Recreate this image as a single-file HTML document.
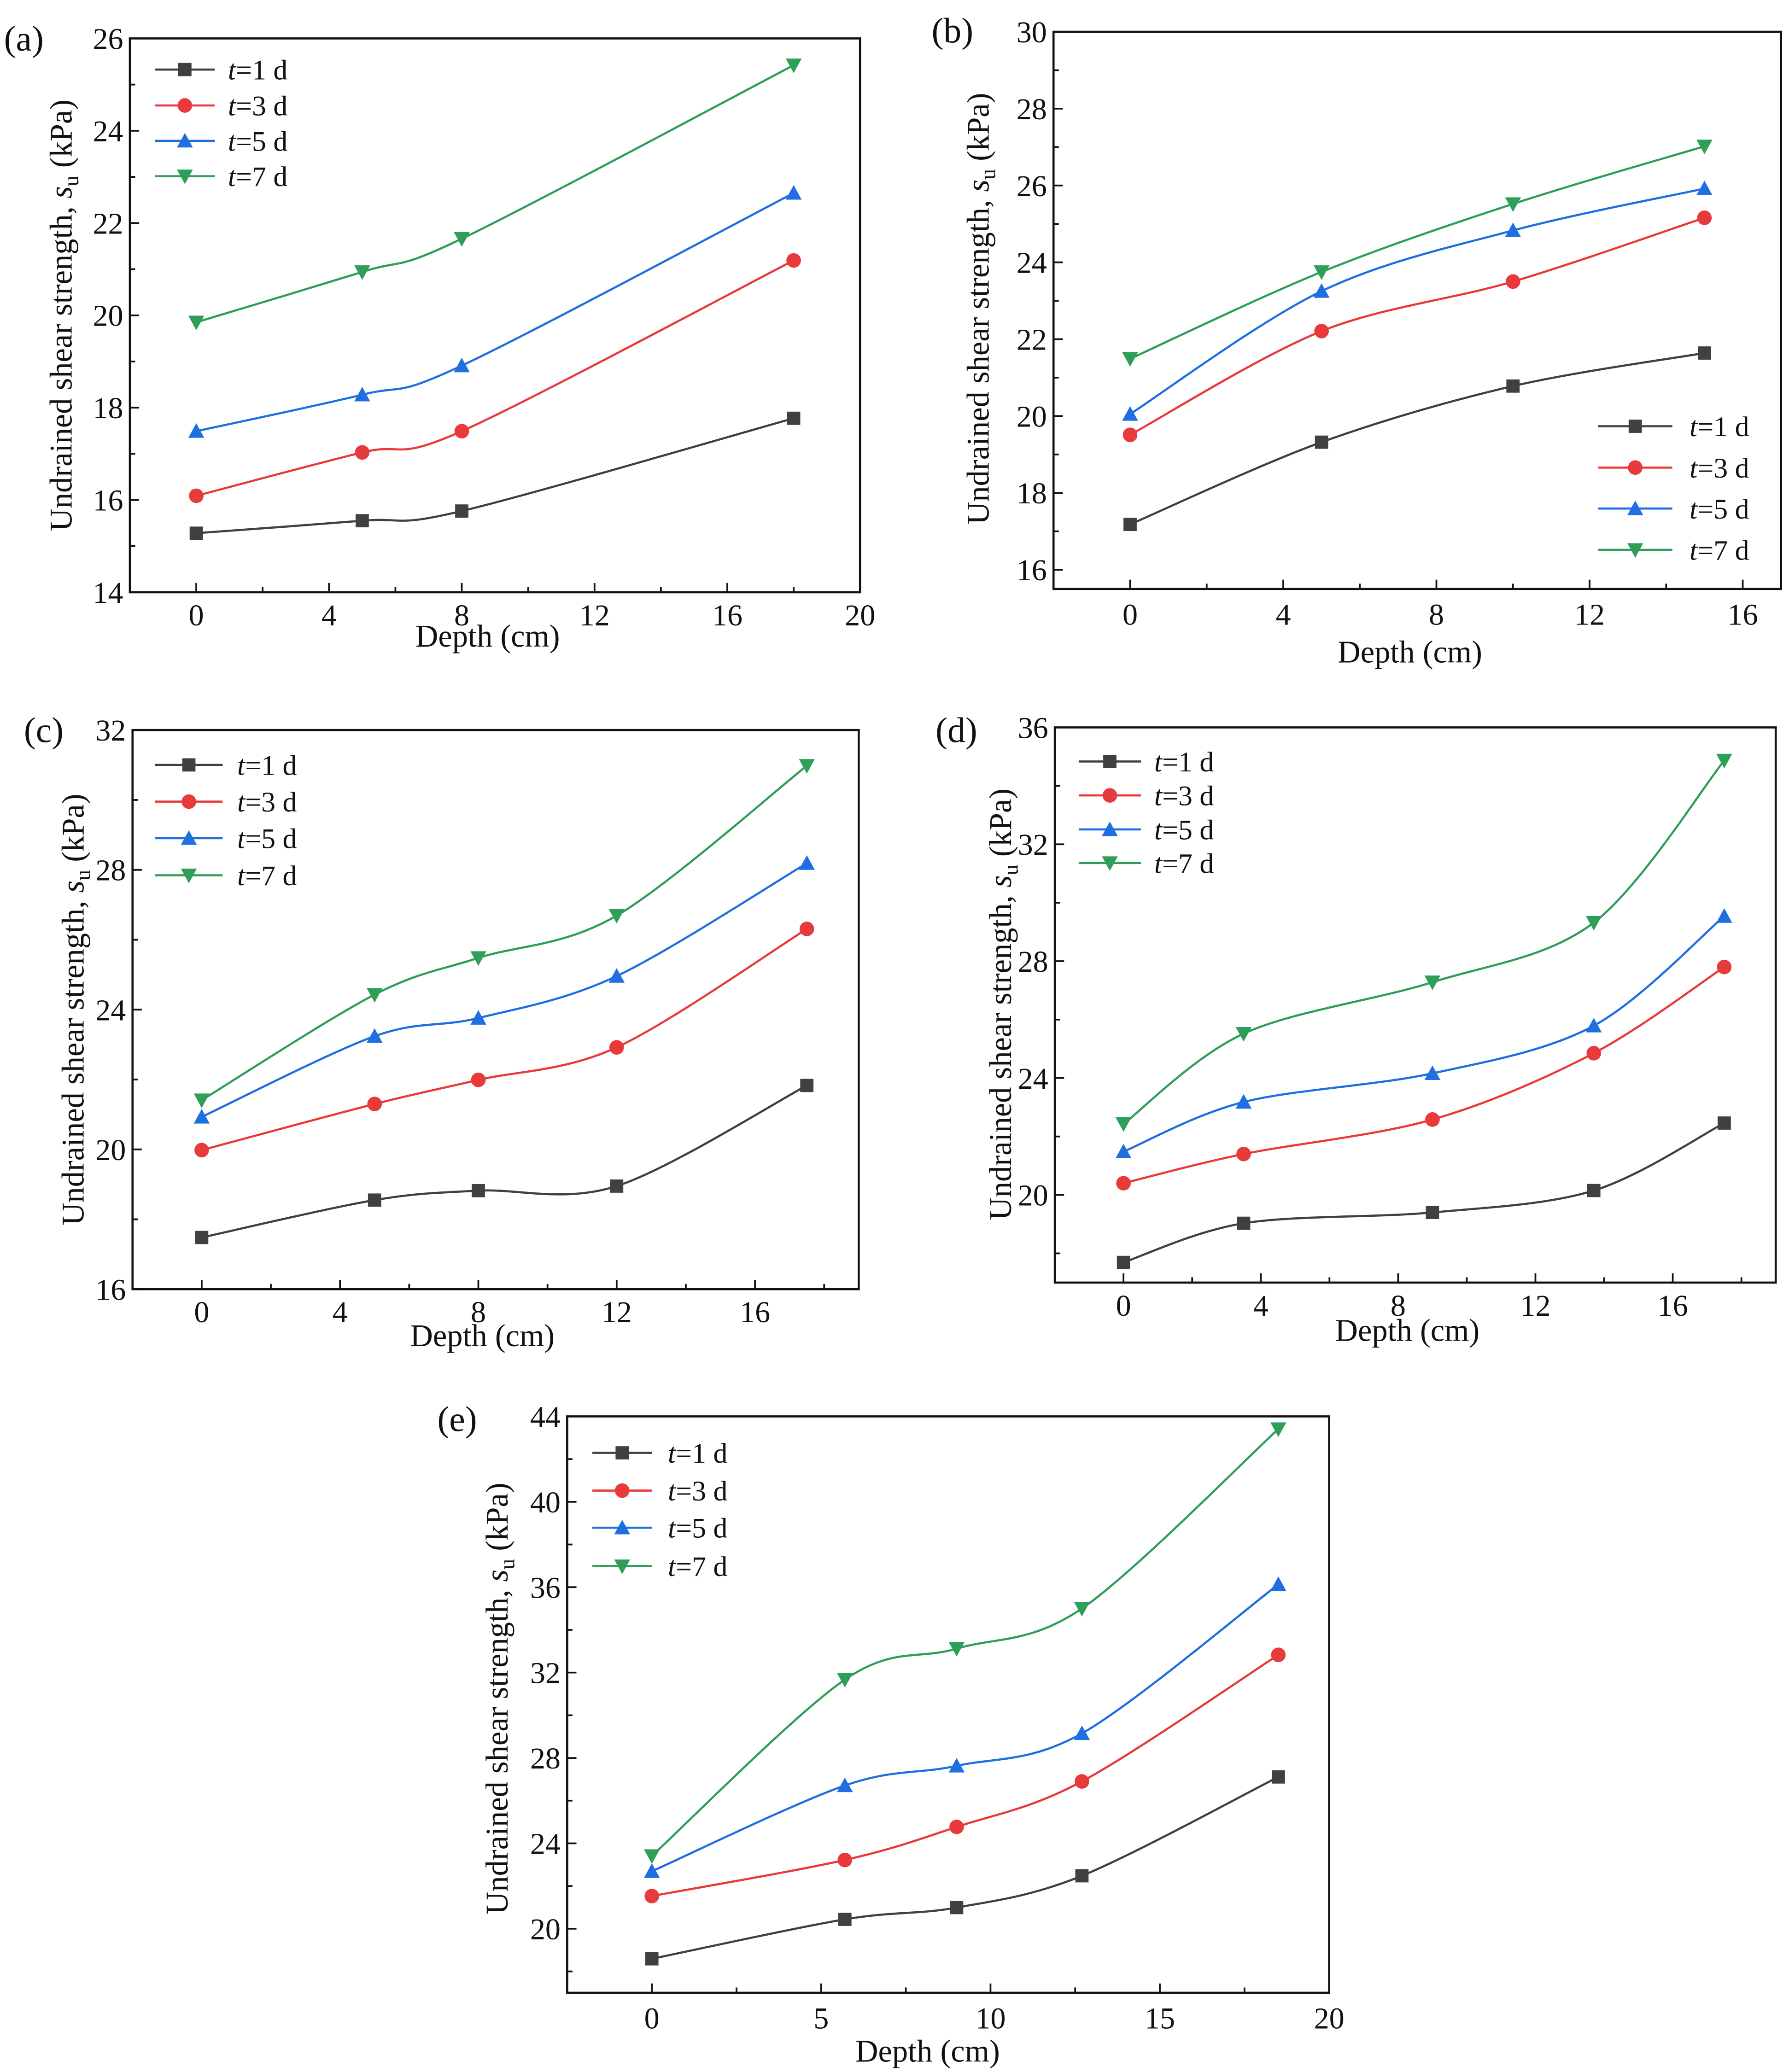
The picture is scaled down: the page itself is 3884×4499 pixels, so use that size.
<!DOCTYPE html>
<html><head><meta charset="utf-8"><style>
html,body{margin:0;padding:0;background:#fff;}
svg{display:block;}
text{font-family:"Liberation Serif",serif;fill:#111;}
</style></head><body>
<svg id="fig" xmlns="http://www.w3.org/2000/svg" width="3884" height="4499" viewBox="0 0 1350 1563.8"></svg>
<script>
// ---- Panel (a) data ----
const aDepth=[0,5,8,18];
const aT1=[15.28,15.55,15.76,17.77];
const aT3=[16.09,17.03,17.49,21.19];
const aT5=[17.49,18.28,18.91,22.65];
const aT7=[19.85,20.94,21.66,25.42];
const aXTicks=[0,4,8,12,16,20];
const aYTicks=[14,16,18,20,22,24,26];
// ---- Panel (b) data ----
const bDepth=[0,5,10,15];
const bT1=[17.18,19.32,20.78,21.64];
const bT3=[19.51,22.21,23.50,25.16];
const bT5=[20.05,23.25,24.83,25.92];
const bT7=[21.49,23.75,25.52,27.02];
const bXTicks=[0,4,8,12,16];
const bYTicks=[16,18,20,22,24,26,28,30];
// ---- Panel (c) data ----
const cDepth=[0,5,8,12,17.5];
const cT1=[17.48,18.55,18.82,18.95,21.83];
const cT3=[19.98,21.30,21.99,22.92,26.31];
const cT5=[20.93,23.24,23.76,24.96,28.19];
const cT7=[21.41,24.43,25.48,26.69,30.98];
const cXTicks=[0,4,8,12,16];
const cYTicks=[16,20,24,28,32];
// ---- Panel (d) data ----
const dDepth=[0,3.5,9,13.7,17.5];
const dT1=[17.69,19.03,19.40,20.15,22.46];
const dT3=[20.40,21.40,22.58,24.85,27.80];
const dT5=[21.48,23.18,24.16,25.79,29.54];
const dT7=[22.43,25.52,27.28,29.32,34.87];
const dXTicks=[0,4,8,12,16];
const dYTicks=[20,24,28,32,36];
// ---- Panel (e) data ----
const eDepth=[0,5.7,9,12.7,18.5];
const eT1=[18.59,20.44,20.99,22.48,27.11];
const eT3=[21.53,23.22,24.77,26.90,32.83];
const eT5=[22.69,26.71,27.63,29.15,36.13];
const eT7=[23.41,31.67,33.12,35.00,43.41];
const eXTicks=[0,5,10,15,20];
const eYTicks=[20,24,28,32,36,40,44];

const seriesDays=['1','3','5','7'];
const colors=['#404040','#e8393b','#1f6fe0','#2e9e58'];
const markers=['square','circle','up','down'];

const NS='http://www.w3.org/2000/svg';
const svg=document.getElementById('fig');
function mk(tag,attrs,parent){const e=document.createElementNS(NS,tag);for(const k in attrs)e.setAttribute(k,attrs[k]);(parent||svg).appendChild(e);return e;}

function smoothPath(pts){
  let d='M'+pts[0][0]+','+pts[0][1];
  for(let i=0;i<pts.length-1;i++){
    const p0=pts[i-1]||pts[i],p1=pts[i],p2=pts[i+1],p3=pts[i+2]||p2;
    const t=0.16;
    const c1=[p1[0]+(p2[0]-p0[0])*t,p1[1]+(p2[1]-p0[1])*t];
    const c2=[p2[0]-(p3[0]-p1[0])*t,p2[1]-(p3[1]-p1[1])*t];
    d+=' C'+c1[0]+','+c1[1]+' '+c2[0]+','+c2[1]+' '+p2[0]+','+p2[1];
  }
  return d;
}
function marker(g,type,x,y,c){
  let m;
  if(type==='square'){m=mk('rect',{x:x-5,y:y-5,width:10,height:10,fill:c},g);}
  else if(type==='circle'){m=mk('circle',{cx:x,cy:y,r:5.5,fill:c},g);}
  else if(type==='up'){m=mk('polygon',{points:(x-6)+','+(y+5)+' '+(x+6)+','+(y+5)+' '+x+','+(y-6),fill:c},g);}
  else {m=mk('polygon',{points:(x-6)+','+(y-5)+' '+(x+6)+','+(y-5)+' '+x+','+(y+6),fill:c},g);}
  return m;
}

function panel(cfg){
  const g=mk('g',{});
  
  
  const [L,T,R,B]=cfg.box;
  const sx=v=>L+(v-cfg.xr[0])/(cfg.xr[1]-cfg.xr[0])*(R-L);
  const sy=v=>B-(v-cfg.yr[0])/(cfg.yr[1]-cfg.yr[0])*(B-T);
  const frame=mk('rect',{x:L,y:T,width:R-L,height:B-T,fill:'none',stroke:'#111','stroke-width':1.6},g);
  
  
  for(let v=Math.ceil(cfg.xr[0]/cfg.xMinor)*cfg.xMinor; v<=cfg.xr[1]+1e-9; v+=cfg.xMinor){
    const major=Math.abs(v/cfg.xMajor-Math.round(v/cfg.xMajor))<1e-6;
    const tk=mk('line',{x1:sx(v),x2:sx(v),y1:B,y2:B-(major?7:4),stroke:'#111','stroke-width':1.3},g);
    
    
  }
  cfg.xTicks.forEach(v=>{
    const t=mk('text',{x:sx(v),y:B+cfg.xLabOff,'font-size':23,'text-anchor':'middle'},g);
    t.textContent=String(v);
    
    
  });
  for(let v=Math.ceil(cfg.yr[0]/cfg.yMinor)*cfg.yMinor; v<=cfg.yr[1]+1e-9; v+=cfg.yMinor){
    const major=Math.abs(v/cfg.yMajor-Math.round(v/cfg.yMajor))<1e-6;
    const tk=mk('line',{x1:L,x2:L+(major?7:4),y1:sy(v),y2:sy(v),stroke:'#111','stroke-width':1.3},g);
    
    
  }
  cfg.yTicks.forEach(v=>{
    const t=mk('text',{x:L-5,y:sy(v)+8,'font-size':23,'text-anchor':'end'},g);
    t.textContent=String(v);
    
    
  });
  cfg.series.forEach((vals,i)=>{
    const sg=mk('g',{},g);
    
    
    const pts=cfg.xs.map((x,j)=>[sx(x),sy(vals[j])]);
    const p=mk('path',{d:smoothPath(pts),fill:'none',stroke:colors[i],'stroke-width':1.6},sg);
    
    
    pts.forEach(pt=>{
      const m=marker(sg,markers[i],pt[0],pt[1],colors[i]);
      
      
    });
  });
  const lg=mk('g',{},g);
  
  
  cfg.legend.ys.forEach((y,i)=>{
    const eg=mk('g',{},lg);
    
    
    mk('line',{x1:cfg.legend.x1,x2:cfg.legend.x2,y1:y,y2:y,stroke:colors[i],'stroke-width':1.6},eg);
    marker(eg,markers[i],(cfg.legend.x1+cfg.legend.x2)/2,y,colors[i]);
    const t=mk('text',{x:cfg.legend.tx,y:y+7.5,'font-size':21.5},eg);
    const ti=mk('tspan',{'font-style':'italic'},t); ti.textContent='t';
    const tr=mk('tspan',{},t); tr.textContent='='+seriesDays[i]+' d';
  });
  const xt=mk('text',{x:cfg.xtitle[0],y:cfg.xtitle[1],'font-size':23.8,'text-anchor':'middle'},g);
  xt.textContent='Depth (cm)';
  
  
  const yt=mk('text',{x:0,y:0,'font-size':23.8,'text-anchor':'middle',transform:'translate('+cfg.ytitle[0]+','+cfg.ytitle[1]+') rotate(-90)'},g);
  
  
  const a1=mk('tspan',{},yt); a1.textContent='Undrained shear strength, ';
  const a2=mk('tspan',{'font-style':'italic'},yt); a2.textContent='s';
  const a3=mk('tspan',{'font-size':16,dy:5},yt); a3.textContent='u';
  const a4=mk('tspan',{dy:-5},yt); a4.textContent=' (kPa)';
  const pl=mk('text',{x:cfg.label[0],y:cfg.label[1],'font-size':27},g);
  pl.textContent='('+cfg.id+')';
  
  
}

panel({id:'a',box:[98,29,649,447],xr:[-2,20],yr:[14,26],xMajor:4,xMinor:2,yMajor:2,yMinor:1,
  xs:aDepth,series:[aT1,aT3,aT5,aT7],xTicks:aXTicks,yTicks:aYTicks,xLabOff:25,
  legend:{x1:117,x2:162,tx:172,ys:[52.5,79.6,106.3,133]},label:[3,38],ytitle:[54,238],xtitle:[368,488]});
panel({id:'b',box:[795,24,1344,444.5],xr:[-2,17],yr:[15.5,30],xMajor:4,xMinor:2,yMajor:2,yMinor:1,
  xs:bDepth,series:[bT1,bT3,bT5,bT7],xTicks:bXTicks,yTicks:bYTicks,xLabOff:27,
  legend:{x1:1206,x2:1262,tx:1275,ys:[321.7,352.9,383.8,415]},label:[703,32],ytitle:[746,233],xtitle:[1064,500]});
panel({id:'c',box:[100,551,648,973],xr:[-2,19],yr:[16,32],xMajor:4,xMinor:2,yMajor:4,yMinor:2,
  xs:cDepth,series:[cT1,cT3,cT5,cT7],xTicks:cXTicks,yTicks:cYTicks,xLabOff:25,
  legend:{x1:117,x2:168,tx:179,ys:[577.3,605,632.6,660.6]},label:[18,560],ytitle:[63,762],xtitle:[364,1016]});
panel({id:'d',box:[796,549,1340,968],xr:[-2,19],yr:[17,36],xMajor:4,xMinor:2,yMajor:4,yMinor:2,
  xs:dDepth,series:[dT1,dT3,dT5,dT7],xTicks:dXTicks,yTicks:dYTicks,xLabOff:25,
  legend:{x1:814,x2:861,tx:871,ys:[574.7,600.3,626,651.3]},label:[706,560],ytitle:[763,758],xtitle:[1062,1012]});
panel({id:'e',box:[428,1069,1003,1504],xr:[-2.5,20],yr:[17,44],xMajor:5,xMinor:2.5,yMajor:4,yMinor:2,
  xs:eDepth,series:[eT1,eT3,eT5,eT7],xTicks:eXTicks,yTicks:eYTicks,xLabOff:27,
  legend:{x1:447,x2:492,tx:504,ys:[1096.5,1125,1153,1182]},label:[330,1080],ytitle:[383,1282],xtitle:[700,1556]});
</script>
</body></html>
